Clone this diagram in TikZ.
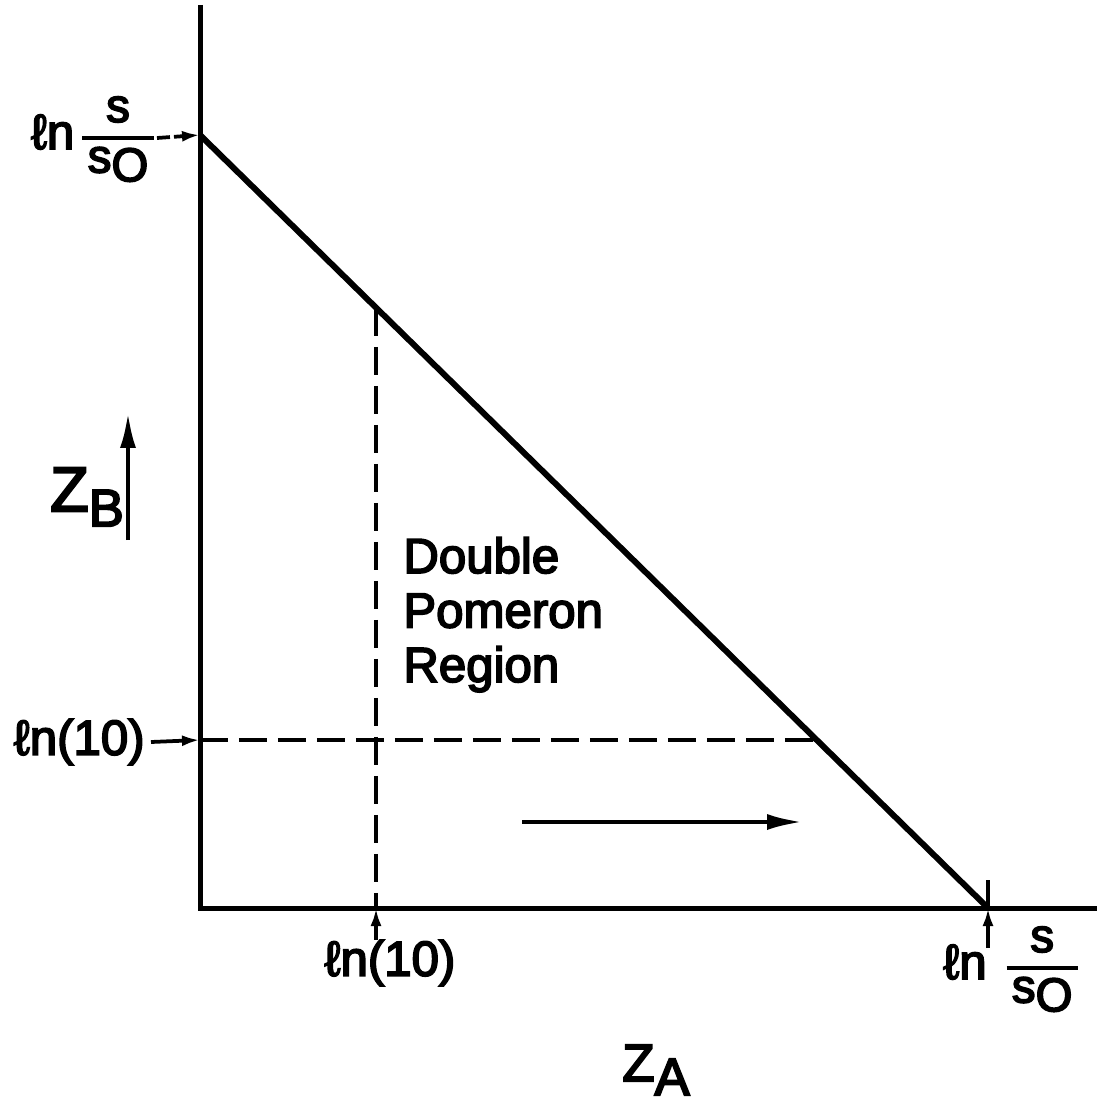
\documentclass[tikz,border=0pt]{standalone}
\usepackage{fontspec}
\setmainfont{Liberation Sans}[FakeBold=3.5]
\usetikzlibrary{arrows.meta}
\newcommand{\sovers}{{\setlength{\arrayrulewidth}{2.4pt}\setlength{\tabcolsep}{3pt}%
  \renewcommand{\arraystretch}{0.85}%
  \begin{tabular}{c}{\fontsize{27}{28}\selectfont s}\\\hline
  {\fontsize{27}{28}\selectfont s\raisebox{-0.35ex}{O}}\end{tabular}}}
\begin{document}
\begin{tikzpicture}[x=0.02cm, y=-0.02cm,
    every node/.style={inner sep=0pt},
    axisline/.style={line width=0.1cm, line join=miter},
    bound/.style={line width=0.12cm},
    guide/.style={line width=0.065cm, dash pattern=on 0.56cm off 0.22cm},
    pointer/.style={line width=0.075cm, -{Latex[length=0.36cm, width=0.22cm]}},
    dirarrow/.style={line width=0.09cm, -{Latex[length=0.72cm, width=0.32cm]}},
    lbl/.style={font=\fontsize{28}{31}\selectfont}]
    \useasboundingbox (0,0) rectangle (1097,1104);
    % corner points
    \coordinate (O) at (200,908);
    \coordinate (ytop) at (200,5);
    \coordinate (xend) at (1097,908);
    \coordinate (ymax) at (200,135);
    \coordinate (xmax) at (988,908);
    \coordinate (P) at (376,308);
    \coordinate (Px) at (376,908);
    \coordinate (Q) at (816,740);
    \coordinate (Qy) at (200,740);
    % axes
    \draw[axisline] (ytop) -- (O) -- (xend);
    % boundary line
    \draw[bound] (ymax) -- (xmax);
    % ln(10) cuts
    \draw[guide] (P) -- (Px);
    \draw[guide] (Qy) -- (Q);
    % labels on the Z_B axis
    \node[lbl, anchor=east] (lnsy) at (154,138) {ℓn\,\sovers};
    \draw[pointer, dash pattern=on 0.26cm off 0.08cm] ([xshift=0.06cm]lnsy.east) -- (ymax);
    \node[lbl, anchor=east] (lnty) at (145,742) {ℓn(10)};
    \draw[pointer] ([xshift=0.12cm]lnty.east) -- (Qy);
    % labels on the Z_A axis
    \node[lbl] (lntx) at (390,963) {ℓn(10)};
    \draw[pointer] (lntx.north -| Px) -- (Px);
    \node[lbl, anchor=west] (lnsx) at (943,968) {ℓn\hspace{0.4cm}\sovers};
    \coordinate (tickx) at (988,948);
    \draw[line width=0.07cm] (xmax) -- (988,880);
    \draw[pointer] (tickx) -- (xmax);
    % region text
    \node[lbl, anchor=north west, align=left] (region) at (403,537)
        {Double\\Pomeron\\Region};
    % axis directions
    \coordinate (zbtail) at (128,540);
    \coordinate (zbhead) at (128,412);
    \draw[dirarrow] (zbtail) -- (zbhead);
    \node (zb) at (87,497) {\fontsize{36}{40}\selectfont Z\raisebox{-0.45ex}{\fontsize{30}{32}\selectfont B}};
    \coordinate (zatail) at (522,822);
    \coordinate (zahead) at (803,822);
    \draw[dirarrow] (zatail) -- (zahead);
    \node (za) at (656,1070) {\fontsize{30}{32}\selectfont Z\raisebox{-0.5ex}{A}};
\end{tikzpicture}
\end{document}
